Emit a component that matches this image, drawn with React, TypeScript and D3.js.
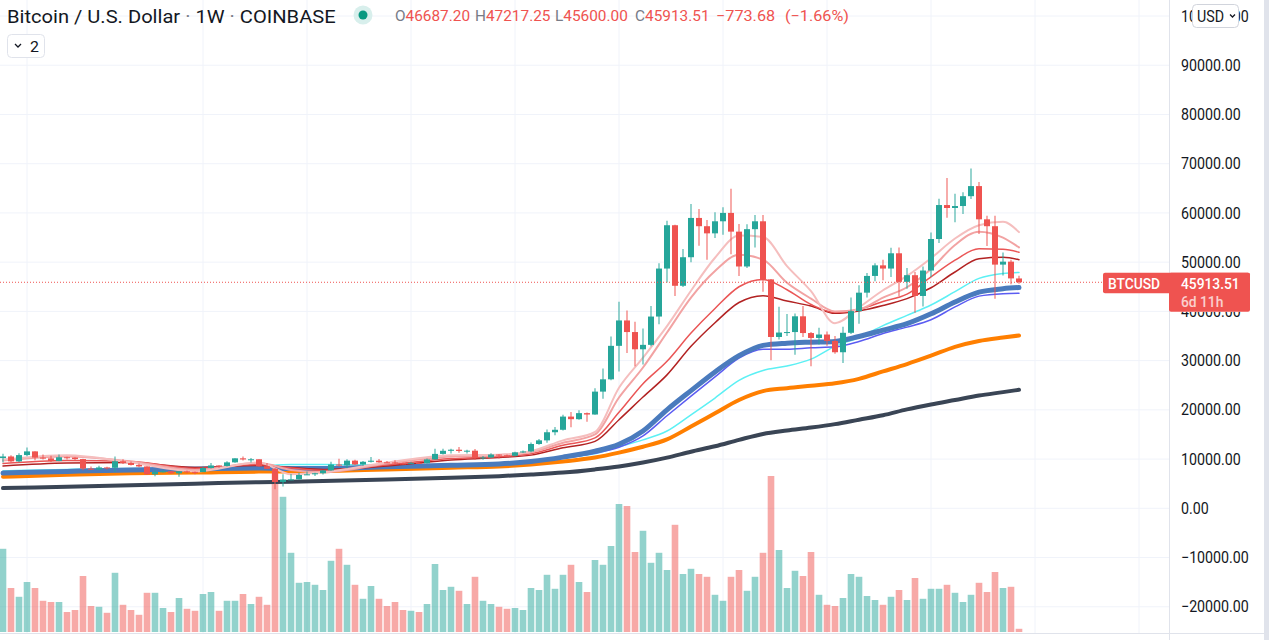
import React from 'react';
import * as d3 from 'd3';

// Weekly BTC/USD candles (index 0 = week of 2019-07-15, 127 = week of 2021-12-20)
const opens = [
  10200, 10530, 9530, 10810, 11560, 10300, 10140, 9600, 10370, 10310,
  10000, 8060, 7870, 8300, 8230, 9550, 9200, 8800, 8500, 6900,
  7400, 7510, 7110, 7510, 7400, 7350, 8180, 8700, 8600, 9330,
  10150, 9920, 9960, 8530, 8030, 5350, 5830, 5880, 6770, 6900,
  7120, 7700, 8890, 8720, 9680, 8900, 9450, 9670, 9340, 9300,
  9120, 9070, 9240, 9160, 9930, 11050, 11680, 11900, 11650, 11700,
  10250, 10330, 10920, 10770, 10670, 11370, 11550, 13060, 13800, 15450,
  15950, 18630, 18100, 19330, 19050, 23700, 26200, 33000, 38160, 35800,
  32300, 33200, 38950, 48700, 57500, 45200, 51000, 58980, 57300, 55850,
  58300, 60000, 56200, 49120, 56700, 58300, 46500, 34800, 35700, 35800,
  39000, 35600, 34600, 35300, 34000, 31700, 35650, 40050, 43800, 47200,
  49350, 48700, 51800, 46000, 47350, 43130, 48300, 54700, 61600, 61000,
  61400, 63400, 65450, 58700, 57300, 49500, 50100, 46687.2,
];
const highs = [
  11100, 10800, 11200, 12350, 11580, 10950, 10650, 10950, 10480, 10380,
  10050, 8500, 8650, 8420, 10500, 9950, 9500, 9080, 8550, 7850,
  7750, 7650, 7520, 7700, 7500, 8450, 9190, 8750, 9560, 10160,
  10500, 10200, 9970, 9180, 8180, 6900, 6950, 7200, 7470, 7200,
  7800, 9470, 10060, 9960, 9850, 9600, 10430, 9990, 9600, 9780,
  9300, 9450, 9300, 10100, 12100, 12100, 12100, 12470, 11900, 12050,
  10600, 11180, 10980, 10950, 11500, 11720, 13350, 14100, 16000, 16500,
  19000, 19550, 19900, 19450, 24400, 28400, 34900, 41950, 40200, 37900,
  36500, 41080, 49800, 58400, 57600, 52650, 61800, 60800, 58570, 60150,
  61160, 64900, 57760, 57700, 59600, 59600, 46600, 40960, 39450, 39590,
  41100, 35800, 36700, 35900, 35000, 36900, 42800, 45300, 47800, 49800,
  50500, 52900, 53000, 48800, 48000, 49100, 56000, 62900, 67100, 63900,
  64200, 69000, 66300, 59440, 59450, 51970, 50500, 47217.25,
];
const lows = [
  9300, 9300, 9350, 10580, 9750, 9900, 9400, 9580, 9900, 9650,
  7750, 7770, 7800, 7890, 7350, 9000, 8700, 8350, 6790, 6520,
  7250, 7050, 6430, 7130, 6900, 7350, 8100, 8240, 8500, 9250,
  9700, 9300, 8450, 8000, 3850, 4440, 5700, 5860, 6740, 6560,
  6850, 7650, 8500, 8120, 8810, 8630, 9280, 9240, 9200, 8850,
  8900, 9000, 9000, 9100, 9900, 10950, 11150, 11300, 11150, 9880,
  9880, 10200, 10140, 10530, 10530, 11220, 11400, 12900, 13300, 14850,
  15800, 16450, 18000, 17600, 19000, 22250, 26000, 27800, 31570, 28840,
  29200, 32900, 37400, 45850, 43120, 44950, 50000, 53330, 50470, 54900,
  55570, 51600, 47200, 48800, 53000, 44000, 30060, 34300, 35000, 31200,
  34800, 28840, 33270, 33000, 31400, 29500, 35400, 37500, 42800, 46100,
  46300, 47000, 43130, 44600, 39730, 41000, 47000, 53900, 59000, 58100,
  59800, 62850, 55700, 53300, 42580, 47300, 45510, 45600,
];
const closes = [
  10530, 9530, 10810, 11560, 10300, 10140, 9600, 10370, 10310, 10000,
  8060, 7870, 8300, 8230, 9550, 9200, 8800, 8500, 6900, 7400,
  7510, 7110, 7510, 7400, 7350, 8180, 8700, 8600, 9330, 10150,
  9920, 9960, 8530, 8030, 5350, 5830, 5880, 6770, 6900, 7120,
  7700, 8890, 8720, 9680, 8900, 9450, 9670, 9340, 9300, 9120,
  9070, 9240, 9160, 9930, 11050, 11680, 11900, 11650, 11700, 10250,
  10330, 10920, 10770, 10670, 11370, 11550, 13060, 13800, 15450, 15950,
  18630, 18100, 19330, 19050, 23700, 26200, 33000, 38160, 35800, 32300,
  33200, 38950, 48700, 57500, 45200, 51000, 58980, 57300, 55850, 58300,
  60000, 56200, 49120, 56700, 58300, 46500, 34800, 35700, 35800, 39000,
  35600, 34600, 35300, 34000, 31700, 35650, 40050, 43800, 47200, 49350,
  48700, 51800, 46000, 47350, 43130, 48300, 54700, 61600, 61000, 61400,
  63400, 65450, 58700, 57300, 49500, 50100, 46700, 45913.51,
];
// volume, thousand BTC
const volumes = [
  208, 110, 88, 125, 110, 78, 75, 75, 50, 55,
  140, 65, 63, 48, 148, 68, 55, 43, 98, 98,
  60, 50, 85, 58, 53, 95, 100, 53, 78, 78,
  95, 70, 88, 68, 415, 338, 198, 123, 125, 118,
  105, 178, 208, 168, 118, 83, 115, 83, 65, 75,
  55, 53, 50, 70, 170, 105, 113, 103, 70, 138,
  78, 70, 63, 58, 60, 55, 110, 105, 143, 108,
  143, 168, 125, 100, 180, 168, 215, 320, 315, 200,
  253, 173, 198, 155, 268, 145, 158, 145, 138, 93,
  78, 138, 155, 103, 138, 198, 390, 205, 110, 153,
  140, 200, 93, 68, 65, 85, 145, 138, 90, 80,
  68, 88, 105, 80, 135, 83, 108, 108, 118, 98,
  75, 93, 123, 100, 150, 110, 113, 8,
];

// moving averages read at sample weeks
const maWeeks = [0, 8, 16, 24, 32, 36, 40, 48, 56, 62, 66, 70, 74, 77, 80, 83, 86, 89, 92, 95, 98, 101, 104, 107, 110, 113, 116, 119, 122, 125, 127];
const maLightPink = [9900, 10800, 9300, 7500, 9300, 6900, 7300, 9300, 10800, 10900, 11600, 13800, 15500, 24500, 30600, 37000, 44200, 50900, 55400, 55100, 49200, 44100, 37600, 40800, 44300, 47200, 50800, 54800, 57500, 58200, 56100];
const maPink = [9700, 10500, 9500, 7800, 9200, 7800, 7300, 9100, 10500, 10800, 11400, 13300, 15000, 22500, 28600, 35700, 42800, 48200, 51500, 50500, 45800, 42600, 40000, 40400, 42800, 44900, 48600, 53500, 56200, 55000, 53000];
const maRed = [9100, 9700, 9500, 8100, 8900, 8200, 7700, 8800, 10100, 10500, 11100, 12800, 14300, 19500, 25300, 29860, 35600, 40600, 45000, 46500, 44400, 41400, 39800, 40400, 42000, 43500, 47000, 50400, 52700, 52600, 52000];
const maDarkRed = [8600, 9200, 9300, 8300, 8700, 8300, 7900, 8600, 9800, 10300, 10800, 12300, 13600, 18000, 22600, 27100, 32900, 37700, 41800, 43200, 42100, 41100, 39600, 40100, 41200, 42600, 44800, 48000, 50700, 51000, 50500];
const maCyan = [7600, 7900, 8100, 8100, 8500, 8900, 8900, 8750, 8900, 9200, 9600, 10300, 11100, 12500, 13900, 15700, 19000, 22400, 26000, 28000, 28900, 30300, 32900, 34700, 37100, 39200, 41300, 44000, 46700, 47700, 47900];
const maBlueThick = [7150, 7500, 7800, 8000, 8200, 8100, 8100, 8450, 8750, 9000, 9500, 10400, 11600, 13000, 15700, 20000, 23900, 27700, 31000, 33100, 33550, 33750, 33900, 34900, 36200, 37500, 39500, 41900, 43900, 44600, 44840];
const maBlueThin = [7300, 7650, 7900, 8050, 8300, 8200, 8150, 8500, 8800, 9050, 9450, 10200, 11200, 12400, 14700, 18800, 22800, 26700, 30500, 32300, 32300, 32600, 32800, 33900, 35500, 36800, 38300, 40900, 43100, 43600, 43670];
const maOrange = [6400, 6800, 7100, 7250, 7450, 7450, 7550, 7900, 8250, 8500, 8900, 9500, 10300, 11300, 12500, 14000, 16600, 19300, 22000, 23800, 24400, 24900, 25400, 26300, 27800, 29300, 31000, 32800, 34000, 34700, 35100];
const maBlack = [4100, 4400, 4700, 5000, 5300, 5400, 5550, 5850, 6200, 6530, 6850, 7250, 7900, 8500, 9300, 10300, 11500, 12600, 13900, 15100, 15800, 16400, 17100, 18000, 18900, 20100, 21100, 22000, 22900, 23600, 24080];

const priceTicks = [100000, 90000, 80000, 70000, 60000, 50000, 40000, 30000, 20000, 10000, 0, -10000, -20000];
const gridWeeks = [3, 25, 38, 51, 64, 77, 90, 103, 116, 129, 142];

const lastPrice = 45913.51;
const titleParts = ['Bitcoin / U.S. Dollar', '1W', 'COINBASE'];
const ohlcLabels = ['O', 'H', 'L', 'C'];
const ohlcValues = ['46687.20', '47217.25', '45600.00', '45913.51'];
const changeAbs = '\u2212773.68';
const changePct = '(\u22121.66%)';

const UP = '#26a69a';
const DOWN = '#ef5350';
const FONT = 'Roboto, "Noto Sans", sans-serif';

const maStyles = [
  { values: maBlack, color: '#3a4555', width: 4 },
  { values: maOrange, color: '#ff7f00', width: 4 },
  { values: maCyan, color: '#5cf0f4', width: 1.5 },
  { values: maBlueThin, color: '#5b5cf2', width: 1.5 },
  { values: maBlueThick, color: '#4a7bbd', width: 5 },
  { values: maDarkRed, color: '#b22222', width: 1.5 },
  { values: maRed, color: '#ea5656', width: 1.5 },
  { values: maPink, color: '#f2a3a3', width: 2 },
  { values: maLightPink, color: '#f5bebe', width: 2 },
];

function Txt(props: any) {
  const { x, y, size, sx = 0.89, fill = '#131722', weight = 400, opacity = 1, children } = props;
  return (
    <text
      transform={`translate(${x},${y}) scale(${sx},1)`}
      fontSize={size}
      fill={fill}
      fontFamily={FONT}
      fontWeight={weight}
      opacity={opacity}
    >
      {children}
    </text>
  );
}

export default function App() {
  const W = 1269;
  const H = 640;
  const plotRight = 1169;
  const x = d3.scaleLinear().domain([0, 127]).range([3, 1019]);
  const y = d3.scaleLinear().domain([0, 100000]).range([508.3, 16]);
  const yv = d3.scaleLinear().domain([0, 400]).range([632, 472]);

  const maLine = (vals: number[]) =>
    d3
      .line<number>()
      .x((_, k) => x(maWeeks[k]))
      .y((v) => y(v))
      .curve(d3.curveMonotoneX)(vals) as string;

  const fmt = (v: number) => (v < 0 ? '\u2212' + Math.abs(v).toFixed(2) : v.toFixed(2));
  const lastY = y(lastPrice);
  const HSX = 1.06;

  return (
    <svg
      width={W}
      height={H}
      style={{ position: 'fixed', left: 0, top: 0, background: '#ffffff' }}
    >
      <defs>
        <clipPath id="belowTag">
          <rect x={plotRight} y={311.7} width={100} height={40} />
        </clipPath>
      </defs>
      <rect x={0} y={0} width={W} height={H} fill="#ffffff" />
      {/* grid */}
      {priceTicks.map((t) => (
        <line key={'h' + t} x1={0} x2={plotRight} y1={y(t)} y2={y(t)} stroke="#f0f3fa" strokeWidth={1} />
      ))}
      {gridWeeks.map((w) => (
        <line key={'v' + w} x1={x(w)} x2={x(w)} y1={0} y2={633} stroke="#f0f3fa" strokeWidth={1} />
      ))}

      {/* volume */}
      {volumes.map((v, i) => (
        <rect
          key={'vol' + i}
          x={x(i) - 3.3}
          y={yv(v)}
          width={6.6}
          height={yv(0) - yv(v)}
          fill={closes[i] >= opens[i] ? UP : DOWN}
          opacity={0.5}
        />
      ))}

      {/* moving averages */}
      {maStyles.map((m, k) => (
        <path key={'ma' + k} d={maLine(m.values)} fill="none" stroke={m.color} strokeWidth={m.width} strokeLinejoin="round" strokeLinecap="round" />
      ))}

      {/* candles */}
      {opens.map((o, i) => {
        const c = closes[i];
        const col = c >= o ? UP : DOWN;
        const top = y(Math.max(o, c));
        const bot = y(Math.min(o, c));
        return (
          <g key={'c' + i}>
            <line x1={x(i)} x2={x(i)} y1={y(highs[i])} y2={y(lows[i])} stroke={col} strokeWidth={1.6} opacity={0.6} />
            <rect x={x(i) - 3} y={top} width={6} height={Math.max(1, bot - top)} fill={col} />
          </g>
        );
      })}

      {/* last price line */}
      <line x1={0} x2={1103} y1={lastY} y2={lastY} stroke={DOWN} strokeWidth={1} strokeDasharray="1 2" />

      {/* price axis */}
      <rect x={plotRight} y={0} width={W - plotRight} height={H} fill="#ffffff" />
      <line x1={plotRight + 0.5} x2={plotRight + 0.5} y1={0} y2={H} stroke="#e0e3eb" strokeWidth={1} />
      <line x1={0} x2={1264} y1={633.5} y2={633.5} stroke="#e0e3eb" strokeWidth={1} />
      <rect x={1264} y={0} width={5} height={H} fill="#e0e3eb" />
      {priceTicks.map((t) =>
        t === 40000 ? (
          <g key={'l' + t} clipPath="url(#belowTag)">
            <Txt x={1181} y={y(t) + 5.6} size={16} fill="#131722">{fmt(t)}</Txt>
          </g>
        ) : (
          <Txt key={'l' + t} x={1181} y={y(t) + 5.6} size={16} fill="#131722">
            {fmt(t)}
          </Txt>
        )
      )}

      {/* USD box */}
      <rect x={1192.5} y={4.5} width={46} height={23} rx={4} fill="#ffffff" stroke="#d1d4dc" strokeWidth={1} />
      <Txt x={1197} y={21.5} size={16} fill="#131722">USD</Txt>
      <path d="M1230,14.5 L1232.5,17 L1235,14.5" fill="none" stroke="#131722" strokeWidth={1.3} />

      {/* last price tag */}
      <rect x={1103} y={272.7} width={147} height={20.6} rx={2} fill={DOWN} />
      <rect x={1169} y={272.7} width={81} height={39} rx={2} fill={DOWN} />
      <Txt x={1108} y={289} size={15.5} fill="#ffffff" weight={500}>BTCUSD</Txt>
      <Txt x={1181} y={289} size={15.5} fill="#ffffff" weight={500}>45913.51</Txt>
      <Txt x={1181} y={306.5} size={15.5} fill="#ffffff" weight={500} opacity={0.72}>6d 11h</Txt>

      {/* header */}
      <Txt x={7} y={22.5} size={19} sx={HSX} fill="#131722">
        {titleParts[0]}
        <tspan fill="#787b86"> · </tspan>
        {titleParts[1]}
        <tspan fill="#787b86"> · </tspan>
        {titleParts[2]}
      </Txt>
      <circle cx={363} cy={15} r={9.5} fill="#d8efec" />
      <circle cx={363} cy={15} r={4.5} fill="#089981" />
      {ohlcLabels.map((lab, k) => (
        <Txt key={'o' + k} x={395 + k * 80} y={21} size={14.5} sx={HSX} fill="#787b86">
          {lab}
          <tspan fill={DOWN}>{ohlcValues[k]}</tspan>
        </Txt>
      ))}
      <Txt x={716} y={21} size={14.5} sx={1.12} fill={DOWN}>{changeAbs}</Txt>
      <Txt x={785} y={21} size={14.5} sx={1.12} fill={DOWN}>{changePct}</Txt>

      <rect x={7.5} y={34.5} width={37} height={23} rx={4} fill="#ffffff" stroke="#e0e3eb" strokeWidth={1} />
      <path d="M15,44 L18,47 L21,44" fill="none" stroke="#131722" strokeWidth={1.3} />
      <Txt x={30} y={51.5} size={15} sx={HSX} fill="#131722">2</Txt>
    </svg>
  );
}
